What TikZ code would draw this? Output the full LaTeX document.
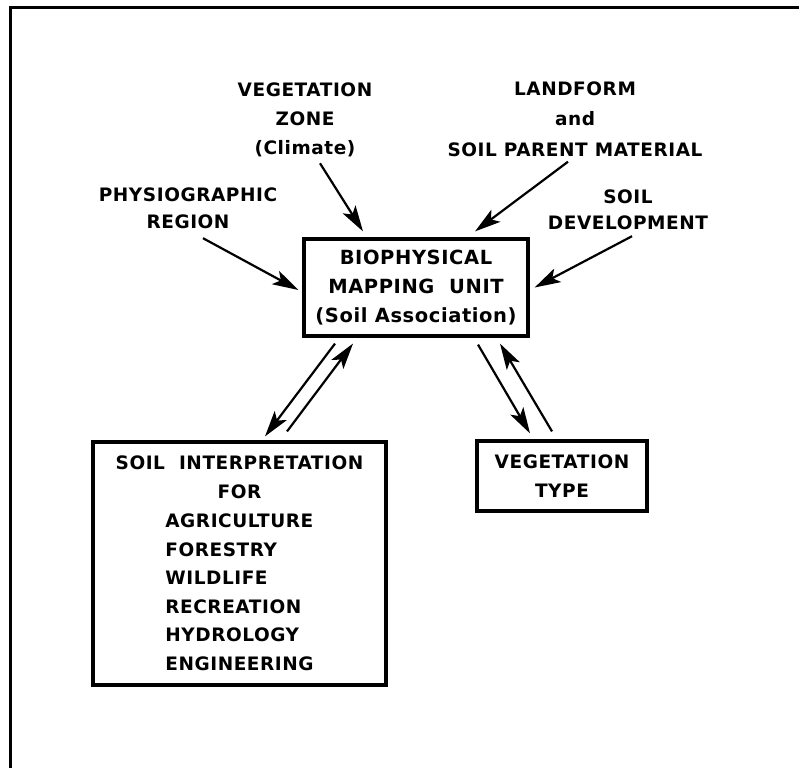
\documentclass[tikz,border=0pt]{standalone}
\usepackage{fontspec}
\newfontfamily\lettering{DejaVu Sans}[LetterSpace=3]
\usetikzlibrary{arrows.meta,positioning,calc}
\tikzset{
  unit/.style ={rectangle, draw=black, line width=3.2pt, align=center,
                font=\lettering\bfseries\fontsize{18.5}{29}\selectfont, inner sep=0pt},
  lbl/.style  ={align=center, font=\lettering\bfseries\fontsize{18.5}{29}\selectfont,
                inner sep=0pt},
  fl/.style   ={-{Stealth[length=26pt,width=15pt,inset=6pt]}, line width=2.2pt},
  frame/.style={line width=3pt},
}

\begin{document}
\begin{tikzpicture}[x=1pt,y=-1pt]
  \useasboundingbox (0,0) rectangle (799,768);
  \draw[frame] (10,768) -- (10,8) -- (799,8);
  % boxes
  \node[unit,minimum width=224,minimum height=97,
        font=\lettering\bfseries\fontsize{19.5}{29}\selectfont] (bmu) at (416,287.5)
    {BIOPHYSICAL\\MAPPING\ \ UNIT\\(Soil Association)};
  \node[unit,minimum width=293,minimum height=243] (interp) at (239.5,563.5)
    {SOIL\ \ INTERPRETATION\\FOR\\
     \vtop{\baselineskip=28.5pt\hbox{AGRICULTURE}\hbox{FORESTRY}\hbox{WILDLIFE}
       \hbox{RECREATION}\hbox{HYDROLOGY}\hbox{ENGINEERING}}};
  \node[unit,minimum width=170,minimum height=70] (veg) at (562,476)
    {VEGETATION\\TYPE};
  % factors
  \node[lbl] (zone) at (305,120) {VEGETATION\\ZONE\\(Climate)};
  \node[lbl,font=\lettering\bfseries\fontsize{18.5}{30.5}\selectfont] (land) at (575,119)
    {LANDFORM\\and\\SOIL PARENT MATERIAL};
  \node[lbl,font=\lettering\bfseries\fontsize{18.5}{27}\selectfont] (phys) at (188,208.5)
    {PHYSIOGRAPHIC\\REGION};
  \node[lbl,font=\lettering\bfseries\fontsize{18.5}{26}\selectfont] (dev) at (628,210)
    {SOIL\\DEVELOPMENT};
  % arrows
  \draw[fl]([xshift=15pt,yshift=-9pt]phys.south)--([xshift=-4pt,yshift=-2.5pt]bmu.west);
  \draw[fl]([xshift=15pt,yshift=-6pt]zone.south)--([xshift=-53pt,yshift=6pt]bmu.north);
  \draw[fl]([xshift=-7pt,yshift=-5pt]land.south)--([xshift=59pt,yshift=6pt]bmu.north);
  \draw[fl]([xshift=4pt,yshift=-6pt]dev.south)--([xshift=5pt]bmu.east);
  \draw[fl]([xshift=-81pt,yshift=-6pt]bmu.south)--([xshift=25.5pt,yshift=4pt]interp.north);
  \draw[fl]([xshift=47.5pt,yshift=9pt]interp.north)--([xshift=-63pt,yshift=-6pt]bmu.south);
  \draw[fl]([xshift=62pt,yshift=-7pt]bmu.south)--([xshift=-32pt,yshift=6pt]veg.north);
  \draw[fl]([xshift=-10pt,yshift=8pt]veg.north)--([xshift=84pt,yshift=-6pt]bmu.south);
\end{tikzpicture}
\end{document}
